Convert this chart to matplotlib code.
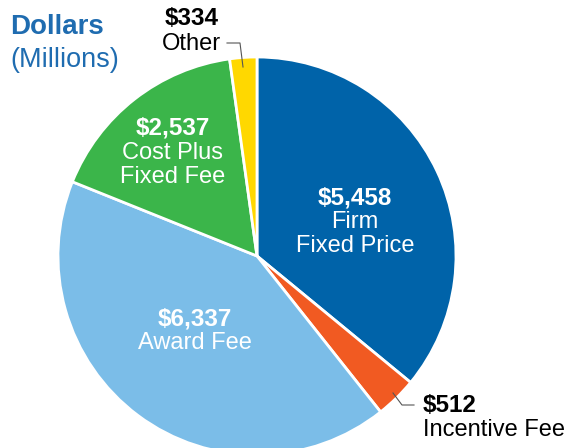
import matplotlib
matplotlib.use("Agg")
import matplotlib.pyplot as plt

categories = ["Firm\nFixed Price", "Incentive Fee", "Award Fee", "Cost Plus\nFixed Fee", "Other"]
values = [5458, 512, 6337, 2537, 334]
value_labels = ["$5,458", "$512", "$6,337", "$2,537", "$334"]
colors = ["#0063A9", "#F15A22", "#7BBDE8", "#3BB54A", "#FFD800"]

plt.rcParams['font.family'] = ['Liberation Sans', 'DejaVu Sans']

W, H = 567, 448
fig = plt.figure(figsize=(W / 100, H / 100), dpi=100)
ax = fig.add_axes([0, 0, 1, 1])

cx, cy, r = 257, H - 256, 199
ax.pie(values, colors=colors, startangle=90, counterclock=False, center=(cx, cy),
       radius=r, frame=True, wedgeprops=dict(edgecolor='white', linewidth=2))
ax.set_xlim(0, W)
ax.set_ylim(0, H)
ax.set_aspect('equal')
ax.axis('off')

def y(p):
    return H - p

fs = 17
fb = 17.5

def block(x, ys, lines, color, ha):
    for i, (yy, txt) in enumerate(zip(ys, lines)):
        ax.text(x, y(yy), txt, color=color, fontsize=fb if i == 0 else fs,
                fontweight='bold' if i == 0 else 'normal', ha=ha, va='center')

# Firm Fixed Price
block(355, [198, 222, 246], [value_labels[0]] + categories[0].split("\n"), 'white', 'center')
# Award Fee
block(195, [319, 343], [value_labels[2], categories[2]], 'white', 'center')
# Cost Plus Fixed Fee
block(173, [128, 153, 177], [value_labels[3]] + categories[3].split("\n"), 'white', 'center')
# Other
ax.text(192, y(18), value_labels[4], color='black', fontsize=fb, fontweight='bold', ha='center', va='center')
ax.text(221, y(44), categories[4], color='black', fontsize=fs, ha='right', va='center')
ax.plot([227, 240, 243], [y(43), y(43), y(67)], color='#555555', lw=0.8)
# Incentive Fee
block(423, [405, 430], [value_labels[1], categories[1]], 'black', 'left')
ax.plot([393, 402, 414], [y(393), y(405), y(405)], color='#555555', lw=0.8)

# Title
ax.text(10, y(27), "Dollars", color='#1F6CB0', fontsize=20, fontweight='bold', ha='left', va='center')
ax.text(10, y(60), "(Millions)", color='#1F6CB0', fontsize=19.5, ha='left', va='center')

fig.savefig("out.png", dpi=100)
